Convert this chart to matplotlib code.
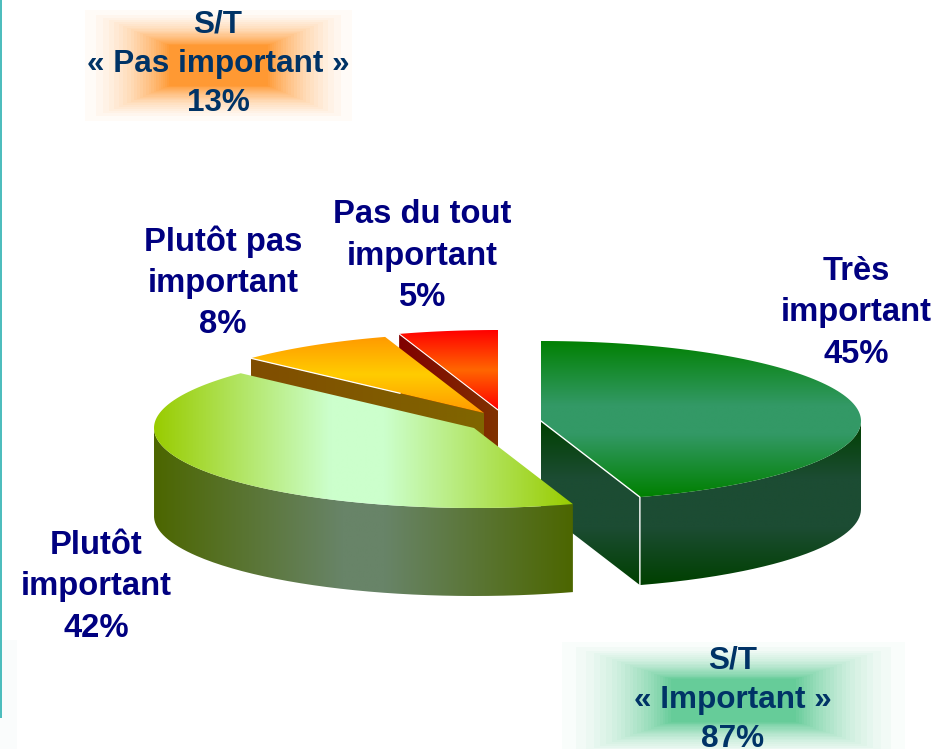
import numpy as np
import matplotlib
matplotlib.use('Agg')
import matplotlib.pyplot as plt
from matplotlib.colors import LinearSegmentedColormap, to_rgb
from matplotlib.patches import PathPatch, Rectangle
from matplotlib.path import Path

plt.rcParams['font.family'] = ['Liberation Sans', 'DejaVu Sans']

# data
categories = ['Très\nimportant', 'Plutôt\nimportant', 'Plutôt pas\nimportant', 'Pas du tout\nimportant']
shares = [45, 42, 8, 5]
summary_labels = ['S/T\n« Pas important »', 'S/T\n« Important »']
summary_values = [13, 87]

# pie layout, in pixels
RX, RY, DEPTH = 320, 80, 88
centers = [(541, 421), (474, 428), (484, 413), (498, 410)]
label_pos = [(856, 313), (96, 587), (223, 283), (422, 256)]
summary_pos = [(218, 64), (733, 700)]

NAVY = '#000080'
DARK_BLUE = '#003366'

fig = plt.figure(figsize=(9.39, 7.49), dpi=100)
ax = fig.add_axes([0, 0, 1, 1])
ax.axis('off')

z = [1]


def rim(c, t0, t1, dy=0):
    t = np.radians(np.linspace(t0, t1, 120))
    return np.column_stack([c[0] + RX*np.sin(t), c[1] - RY*np.cos(t) + dy])


def grad_fill(pts, box, stops, horizontal=False):
    # gradient image clipped to a polygon
    cmap = LinearSegmentedColormap.from_list('g', stops)
    g = np.linspace(0, 1, 256)
    g = g.reshape(1, -1) if horizontal else g.reshape(-1, 1)
    im = ax.imshow(g, cmap=cmap, extent=(box[0], box[2], box[3], box[1]), aspect='auto',
                   origin='upper', vmin=0, vmax=1, zorder=z[0], interpolation='bilinear')
    pts = np.vstack([pts, pts[0]])
    im.set_clip_path(PathPatch(Path(pts), transform=ax.transData))
    z[0] += 1


def glow(cx, cy, hw, hh, color):
    # rectangular path gradient, in visible steps like the original
    x = np.arange(int(cx-hw), int(cx+hw))
    y = np.arange(int(cy-hh), int(cy+hh))
    xx, yy = np.meshgrid(x, y)
    d = np.maximum(np.abs(xx-cx)/hw, np.abs(yy-cy)/hh)
    a = np.clip((1-d)/0.68, 0, 1)**2.1
    a = np.round(a*24)/24
    rgba = np.zeros(d.shape + (4,))
    rgba[..., :3] = to_rgb(color)
    rgba[..., 3] = a
    ax.imshow(rgba, extent=(cx-hw, cx+hw, cy+hh, cy-hh), aspect='auto', zorder=0,
              interpolation='bilinear')


glow(218, 65, 150, 62, '#FF9933')
glow(733, 700, 192, 65, '#66CC99')
ax.add_patch(Rectangle((0, 640), 17, 109, color='#FAFCFC', lw=0, zorder=0))
ax.add_patch(Rectangle((0, 0), 1.5, 718, color='#4DBDBD', lw=0, zorder=0.5))

# slice angles, clockwise from the top
edges = np.cumsum([0] + shares)*3.6
c_green, c_light, c_orange, c_red = centers

# red slice
a0, a1 = edges[3], edges[4]
p = rim(c_red, a0, a1)
grad_fill(np.vstack([p[0], [c_red[0], c_red[1]], [c_red[0], c_red[1]+DEPTH], p[0]+[0, DEPTH]]),
          (p[0][0], 300, c_red[0], 500), ['#800000', '#803300'], True)
grad_fill(np.vstack([c_red, p]), (380, p[:, 1].min(), 500, c_red[1]), ['#FF0000', '#FF6600', '#FF0000'])
ax.plot([p[0][0], c_red[0]], [p[0][1], c_red[1]], color='white', lw=0.8, zorder=z[0])
z[0] += 1

# orange slice
a0, a1 = edges[2], edges[3]
p = rim(c_orange, a0, a1)
grad_fill(np.vstack([p[0], c_orange, [c_orange[0], c_orange[1]+DEPTH], p[0]+[0, DEPTH]]),
          (p[0][0], 300, c_orange[0], 520), ['#804D00', '#806600'], True)
grad_fill(np.vstack([c_orange, p]), (240, p[:, 1].min(), 490, c_orange[1]), ['#FF9900', '#FFCC00', '#FF9900'])
ax.plot([p[0][0], 400], [p[0][1], p[0][1] + (400-p[0][0])*(c_orange[1]-p[0][1])/(c_orange[0]-p[0][0])],
        color='white', lw=0.9, zorder=z[0])
z[0] += 1

# dark green slice
a0, a1 = edges[0], edges[1]
p = rim(c_green, a0, a1)
side_box = (c_green[0], c_green[1], 870, c_green[1]+RY+DEPTH-4)
side_stops = [(0, '#004000'), (0.35, '#1C4C33'), (0.65, '#1C4C33'), (1, '#004000')]
e = p[-1]
grad_fill(np.vstack([c_green, e, e+[0, DEPTH], [c_green[0], c_green[1]+DEPTH]]), side_box, side_stops)
s = rim(c_green, 90, a1)
grad_fill(np.vstack([s, s[::-1]+[0, DEPTH]]), side_box, side_stops)
grad_fill(np.vstack([c_green, p]), (c_green[0], c_green[1]-RY-1, 870, e[1]),
          [(0, '#008000'), (0.42, '#339966'), (0.6, '#339966'), (1, '#008000')])
ax.plot([c_green[0], e[0], e[0]], [c_green[1], e[1], e[1]+DEPTH], color='white', lw=1.0, zorder=z[0])
z[0] += 1

# light green slice
a0, a1 = edges[1], edges[2]
p = rim(c_light, a0, a1)
box = (c_light[0]-RX, 300, p[0][0], 620)
s = rim(c_light, a0, 270)
grad_fill(np.vstack([s, s[::-1]+[0, DEPTH]]), box,
          [(0, '#4C6600'), (0.45, '#688468'), (0.55, '#688468'), (1, '#4C6600')], True)
grad_fill(np.vstack([c_light, p]), box,
          [(0, '#99CC00'), (0.42, '#CCFFCC'), (0.55, '#CCFFCC'), (1, '#99CC00')], True)

# labels
for name, share, (x, y) in zip(categories, shares, label_pos):
    ax.text(x, y, '{}\n{}%'.format(name, share), color=NAVY, fontsize=23.6, fontweight='bold',
            ha='center', va='center', linespacing=1.42, zorder=50)
for name, val, (x, y) in zip(summary_labels, summary_values, summary_pos):
    ax.text(x, y, '{}\n{}%'.format(name, val), color=DARK_BLUE, fontsize=22.7, fontweight='bold',
            ha='center', va='center', linespacing=1.4, zorder=50)

ax.set_xlim(0, 939)
ax.set_ylim(749, 0)
fig.savefig('out.png', dpi=100)
